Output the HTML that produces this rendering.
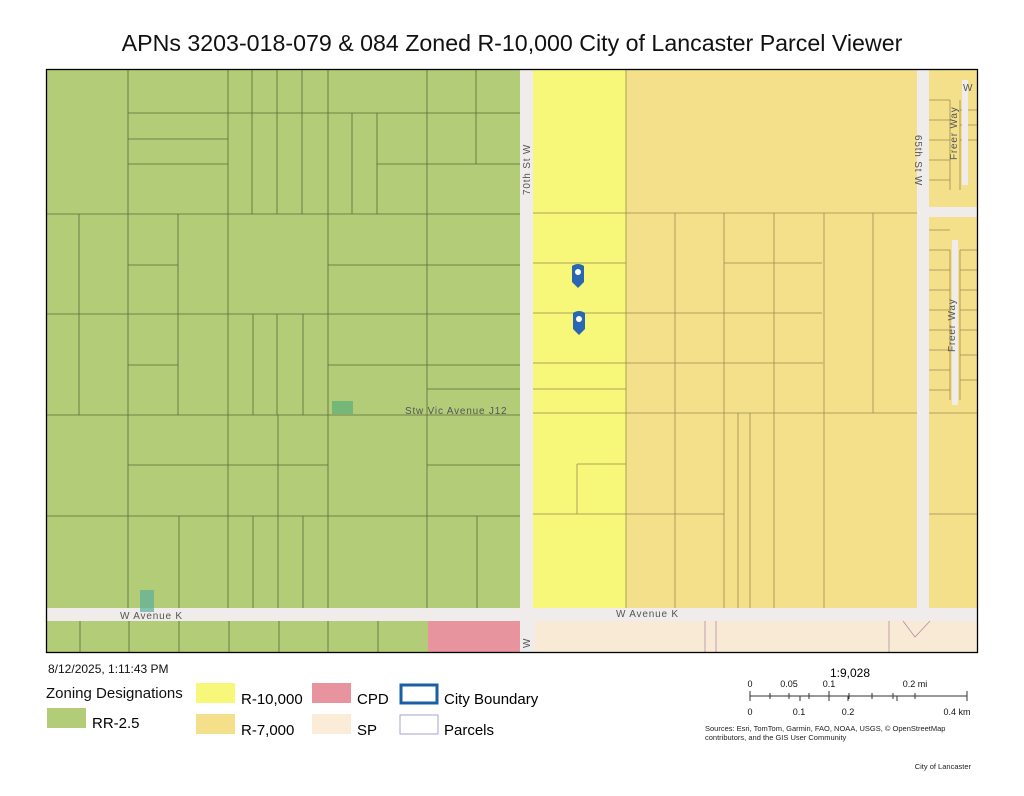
<!DOCTYPE html>
<html><head><meta charset="utf-8"><style>
body{margin:0;background:#fff;font-family:"Liberation Sans",sans-serif;}
</style></head><body>
<svg width="1024" height="791" xmlns="http://www.w3.org/2000/svg" font-family="Liberation Sans, sans-serif">
<rect width="1024" height="791" fill="#fff"/>
<text x="512" y="51" text-anchor="middle" font-size="23.2" fill="#111">APNs 3203-018-079 &amp; 084 Zoned R-10,000 City of Lancaster Parcel Viewer</text>
<rect x="47" y="70" width="930" height="582" fill="#efeceb"/>
<rect x="47" y="70" width="473" height="538" fill="#b2cc78"/>
<rect x="533" y="70" width="93" height="538" fill="#f7f77a"/>
<rect x="626" y="70" width="291" height="538" fill="#f4e08a"/>
<rect x="929" y="70" width="48" height="538" fill="#f4e08a"/>
<rect x="47" y="621" width="381" height="31" fill="#b2cc78"/>
<rect x="428" y="621" width="92" height="31" fill="#e8949e"/>
<rect x="535" y="621" width="442" height="31" fill="#f9ead6"/>
<g stroke="#5a6b3a" stroke-width="0.8" fill="none">
<path d="M128 70V608M228 70V608M328 70V608M427 70V608M47 214H520M47 314H520M47 415H520M47 516H520"/>
<path d="M252 70V214M277 70V214M302 70V214M352 113V214M377 113V214M476 70V164M128 113H520M128 139H228M128 164H228M377 164H520"/>
<path d="M79 214V415M178 214V415M128 265H178M328 265H520"/>
<path d="M253 314V415M277 314V415M303 314V415M128 365H178M328 365H520M427 389H520"/>
<path d="M128 465H328M427 465H520M278 415V608M179 516V608M253 516V608M303 516V608M477 516V608"/>
<path d="M80 621V652M129 621V652M179 621V652M229 621V652M279 621V652M328 621V652M378 621V652"/>
</g>
<g stroke="#9a8a50" stroke-width="0.8" fill="none">
<path d="M533 213H917M533 263H626M533 313H626M533 363H823M533 389H626M533 413H917M577 464H626M577 464V514M533 514H724"/>
<path d="M626 70V608M675 213V608M724 213V608M774 213V608M824 213V608M873 213V413M724 263H822M626 313H822M738 413V608M750 413V608"/>
<path d="M929 413H977M929 514H977M929 100H950M929 120H950M929 140H950M929 160H950M929 180H950M960 110H977M960 125H977M960 140H977M929 230H950M929 250H950M929 270H950M929 290H950M929 310H950M929 330H950M929 350H950M929 370H950M929 390H950M960 250H977M960 270H977M960 290H977M960 310H977M960 330H977M960 355H977M960 380H977"/>
<path d="M950 250V400M960 250V400M950 100V190M960 100V190"/>
</g>
<g stroke="#b48aa8" stroke-width="0.8" fill="none"><path d="M705 621V652M716 621V652M889 621V652M903 621L915 637L930 621"/></g>
<path d="M965 80V185M955 240V405" stroke="#efeceb" stroke-width="6" fill="none"/>
<rect x="929" y="207" width="48" height="10" fill="#efeceb"/>
<rect x="332" y="401" width="21" height="13" fill="#5aae78" opacity="0.7"/>
<rect x="140" y="590" width="14" height="22" fill="#5aae9a" opacity="0.7"/>
<g fill="#555" font-size="10" letter-spacing="0.8">
<text x="405" y="414">Stw Vic Avenue J12</text>
<text x="120" y="619">W Avenue K</text>
<text x="616" y="617">W Avenue K</text>
<text transform="translate(530,195) rotate(-90)">70th St W</text>
<text transform="translate(915,135) rotate(90)">65th St W</text>
<text transform="translate(957,160) rotate(-90)">Freer Way</text>
<text transform="translate(955,352) rotate(-90)">Freer Way</text>
<text transform="translate(530,648) rotate(-90)">W</text>
<text x="963" y="91">W</text>
</g>
<g fill="#2a67b2">
<path d="M572 266Q578 262 584 266V282L578 288L572 282Z"/>
<path d="M573 313Q579 309 585 313V329L579 335L573 329Z"/>
</g>
<circle cx="578" cy="272" r="3" fill="#fff"/><circle cx="579" cy="319" r="3" fill="#fff"/>
<rect x="46.5" y="69.5" width="931" height="583" fill="none" stroke="#000" stroke-width="1.3"/>
<text x="48" y="673" font-size="12" fill="#111">8/12/2025, 1:11:43 PM</text>
<text x="46" y="698" font-size="15" fill="#111">Zoning Designations</text>
<rect x="47" y="708" width="39" height="20" fill="#b2cc78"/><text x="92" y="728" font-size="15">RR-2.5</text>
<rect x="196" y="683" width="39" height="20" fill="#f7f77a"/><text x="241" y="704" font-size="15">R-10,000</text>
<rect x="196" y="714" width="39" height="20" fill="#f4e08a"/><text x="241" y="735" font-size="15">R-7,000</text>
<rect x="312" y="683" width="39" height="20" fill="#e8949e"/><text x="357" y="704" font-size="15">CPD</text>
<rect x="312" y="714" width="39" height="20" fill="#fbecd8"/><text x="357" y="735" font-size="15">SP</text>
<rect x="401" y="685" width="36" height="18" fill="none" stroke="#1a5fa6" stroke-width="3"/><text x="444" y="704" font-size="15">City Boundary</text>
<rect x="400" y="715" width="38" height="19" fill="none" stroke="#aaa0d0" stroke-width="1"/><text x="444" y="735" font-size="15">Parcels</text>
<text x="850" y="677" font-size="12" text-anchor="middle">1:9,028</text>
<g font-size="9" text-anchor="middle" fill="#111">
<text x="750" y="687">0</text><text x="789" y="687">0.05</text><text x="829" y="687">0.1</text><text x="915" y="687">0.2 mi</text>
<text x="750" y="715">0</text><text x="799" y="715">0.1</text><text x="848" y="715">0.2</text><text x="957" y="715">0.4 km</text>
</g>
<g stroke="#333" stroke-width="1" fill="none">
<path d="M750 696H967M750 691V701M967 691V701M770 693V699M789 693V699M809 693V699M829 691V701M849 693V699M872 693V699M893 693V699M915 693V699M800 696V701M848 696V701M897 696V701"/>
</g>
<text x="705" y="731" font-size="7.5" fill="#222">Sources: Esri, TomTom, Garmin, FAO, NOAA, USGS, © OpenStreetMap</text>
<text x="705" y="740" font-size="7.5" fill="#222">contributors, and the GIS User Community</text>
<text x="971" y="769" font-size="7.5" text-anchor="end" fill="#222">City of Lancaster</text>
</svg>
</body></html>
